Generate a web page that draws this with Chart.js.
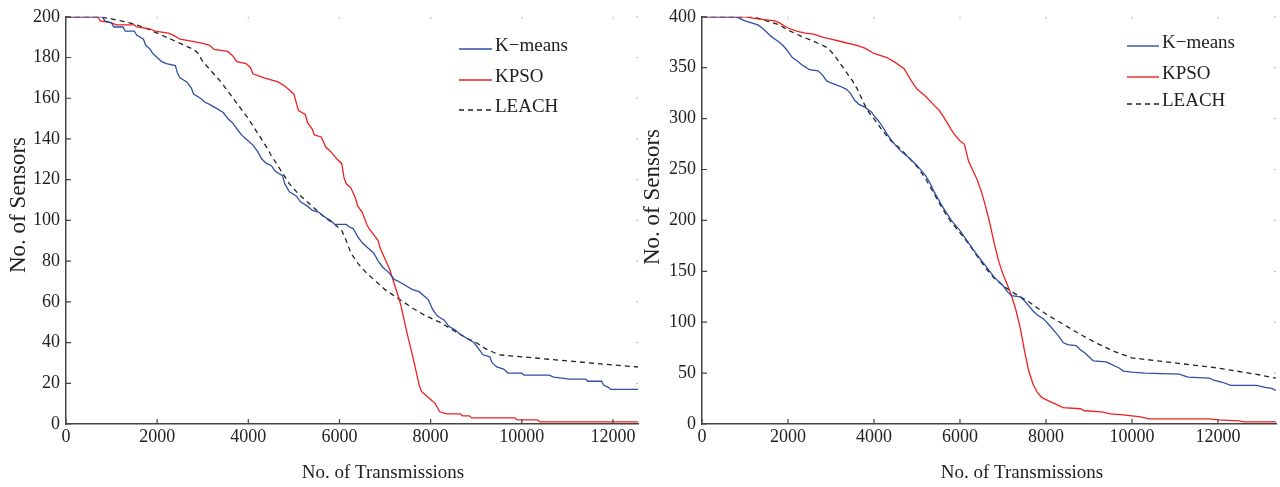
<!DOCTYPE html>
<html>
<head>
<meta charset="utf-8">
<script src="https://cdn.jsdelivr.net/npm/chart.js@4.4.0/dist/chart.umd.min.js"></script>
<style>
html, body { margin: 0; padding: 0; background: #fff; }
#wrap { position: relative; width: 1280px; height: 487px; }
.box { position: absolute; top: 0; height: 487px; }
</style>
</head>
<body>
<div id="wrap">
  <div class="box" style="left:0;width:648px"><canvas id="leftChart"></canvas></div>
  <div class="box" style="left:636px;width:644px"><canvas id="rightChart"></canvas></div>
</div>
<script>
// series names
var seriesNames = ["K\u2212means", "KPSO", "LEACH"];

// left panel: 200 sensors, [transmissions, sensors alive]
var leftKmeans = [[0,200],[800,200],[850,198],[1000,197],[1050,195],[1250,195],[1300,193],[1500,193],[1550,191],[1700,189],[1750,186],[1850,184],[1900,182],[2000,180],[2100,178],[2200,177],[2400,176],[2450,172],[2500,170],[2650,168],[2750,165],[2800,162],[2950,160],[3050,158],[3150,157],[3300,155],[3450,153],[3550,150],[3650,148],[3750,145],[3850,142],[3950,140],[4100,137],[4200,134],[4300,130],[4400,128],[4500,127],[4600,124],[4750,122],[4800,118],[4900,114],[5050,112],[5150,109],[5300,107],[5400,105],[5550,104],[5650,102],[5800,100],[5900,98],[6150,98],[6200,97],[6300,96],[6400,92],[6500,89],[6650,86],[6750,84],[6850,80],[6950,77],[7100,74],[7200,71],[7300,70],[7450,68],[7600,66],[7750,65],[7850,63],[7950,61],[8050,56],[8150,53],[8300,51],[8400,48],[8550,46],[8650,44],[8800,42],[8950,40],[9050,37],[9150,34],[9300,33],[9350,30],[9450,28],[9600,27],[9700,25],[10000,25],[10050,24],[10600,24],[10700,23],[11050,22],[11400,22],[11450,21],[11750,21],[11800,19],[11900,18],[11950,17],[12550,17]];
var leftKpso = [[0,200],[700,200],[750,198],[1000,197],[1100,196],[1500,196],[1550,195],[1850,194],[1950,193],[2250,192],[2350,191],[2500,189],[2750,188],[3000,187],[3150,186],[3250,184],[3550,183],[3650,181],[3750,178],[3950,177],[4050,175],[4100,172],[4350,170],[4500,169],[4650,168],[4800,166],[4900,164],[5000,162],[5050,158],[5100,154],[5250,152],[5300,148],[5400,145],[5450,142],[5600,141],[5700,136],[5800,134],[5950,130],[6050,128],[6100,121],[6150,118],[6250,116],[6350,111],[6400,107],[6500,104],[6600,98],[6650,96],[6750,93],[6850,90],[6900,86],[7000,81],[7100,76],[7200,69],[7300,62],[7350,58],[7450,48],[7500,43],[7600,34],[7700,24],[7750,19],[7800,16],[7900,14],[8000,12],[8100,10],[8200,6],[8350,5],[8650,5],[8700,4],[8850,4],[8900,3],[9850,3],[9900,2],[10350,2],[10400,1],[12550,1]];
var leftLeach = [[0,200],[700,200],[1000,199],[1400,197],[1700,195],[2000,192],[2300,189],[2600,186],[2800,184],[2900,182],[3000,178],[3200,173],[3400,168],[3600,162],[3800,156],[4000,150],[4200,143],[4400,136],[4500,132],[4700,125],[4900,118],[5100,113],[5300,109],[5500,105],[5700,101],[5900,98],[6050,95],[6150,90],[6250,84],[6400,79],[6600,74],[6800,70],[7000,66],[7200,63],[7400,60],[7600,57],[7900,53],[8200,50],[8500,46],[8800,42],[9000,40],[9200,37],[9500,34],[10000,33],[11000,31],[12000,29],[12550,28]];

// right panel: 400 sensors
var rightKmeans = [[0,400],[800,400],[900,398],[1000,396],[1150,394],[1300,392],[1400,389],[1500,385],[1600,381],[1700,378],[1800,375],[1900,371],[2000,366],[2100,360],[2200,357],[2350,352],[2500,348],[2700,347],[2800,343],[2900,337],[3000,335],[3200,332],[3350,329],[3450,325],[3550,318],[3650,314],[3800,311],[3950,306],[4000,303],[4100,298],[4200,292],[4300,285],[4400,279],[4500,274],[4600,269],[4800,262],[5000,254],[5200,244],[5300,237],[5400,228],[5600,213],[5800,200],[6000,190],[6200,178],[6400,166],[6600,155],[6800,144],[7000,136],[7100,130],[7200,126],[7400,125],[7500,121],[7600,116],[7700,111],[7800,107],[7950,103],[8100,96],[8200,91],[8300,86],[8400,80],[8500,78],[8700,77],[8800,73],[8900,70],[9000,66],[9100,62],[9400,61],[9500,59],[9600,57],[9700,55],[9800,52],[10000,51],[10300,50],[11100,49],[11300,46],[11800,45],[11900,43],[12100,41],[12300,38],[12900,38],[13100,36],[13250,35],[13350,33]];
var rightKpso = [[0,400],[1000,400],[1300,398],[1700,396],[1800,394],[2000,389],[2200,386],[2400,384],[2600,383],[2800,380],[3000,378],[3300,375],[3600,372],[3800,369],[4000,364],[4300,360],[4500,355],[4700,349],[4800,342],[4900,335],[5000,329],[5200,322],[5400,313],[5500,309],[5600,303],[5700,296],[5800,289],[5900,283],[6000,278],[6100,275],[6200,258],[6300,249],[6400,240],[6500,228],[6600,213],[6700,196],[6800,177],[6900,160],[7000,147],[7100,137],[7200,126],[7300,112],[7400,95],[7500,72],[7600,52],[7700,39],[7800,31],[7900,26],[8000,24],[8100,22],[8300,18],[8400,16],[8800,15],[8900,13],[9300,12],[9500,10],[9800,9],[10000,8],[10200,7],[10400,5],[11800,5],[12000,4],[12500,3],[12600,2],[13350,2]];
var rightLeach = [[0,400],[1200,400],[1500,396],[1800,392],[2000,387],[2300,381],[2600,376],[2900,370],[3000,366],[3100,361],[3200,355],[3300,349],[3400,343],[3500,337],[3600,330],[3700,321],[3800,312],[3900,305],[4000,300],[4200,288],[4400,278],[4600,271],[4800,262],[5000,253],[5200,241],[5400,226],[5600,211],[5800,198],[6000,188],[6200,177],[6400,165],[6600,153],[6800,143],[7000,136],[7200,130],[7400,125],[7600,120],[7800,114],[8000,108],[8400,98],[8800,88],[9200,79],[9600,71],[10000,65],[11000,60],[12000,55],[13000,48],[13350,45]];

// axes and tick labels
var leftXMax = 12550, rightXMax = 13350;
var xTicks = [0, 2000, 4000, 6000, 8000, 10000, 12000];
var leftYTicks = [0, 20, 40, 60, 80, 100, 120, 140, 160, 180, 200];
var rightYTicks = [0, 50, 100, 150, 200, 250, 300, 350, 400];
var xTitle = "No. of Transmissions";
var yTitle = "No. of Sensors";

var serif = "'Liberation Serif', 'Times New Roman', serif";
var colors = ["#2f4ea6", "#ee2020", "#222222"];

function toXY(list) {
    return list.map(function(p) { return {x: p[0], y: p[1]}; });
}

function fixedTicks(values) {
    return function(scale) {
        scale.ticks = values.map(function(v) { return {value: v}; });
    };
}

// inward tick marks + faint box ticks
var tickPlugin = {
    id: "inTicks",
    afterDraw: function(chart) {
        var ctx = chart.ctx, a = chart.chartArea;
        var xs = chart.scales.x, ys = chart.scales.y;
        ctx.save();
        ctx.lineWidth = 1.2;
        ctx.strokeStyle = "#444";
        ctx.beginPath();
        xs.ticks.forEach(function(t) {
            var px = xs.getPixelForValue(t.value);
            ctx.moveTo(px, a.bottom); ctx.lineTo(px, a.bottom - 5);
        });
        ys.ticks.forEach(function(t) {
            var py = ys.getPixelForValue(t.value);
            ctx.moveTo(a.left, py); ctx.lineTo(a.left + 5, py);
        });
        ctx.stroke();
        ctx.strokeStyle = "rgba(120,120,120,0.45)";
        ctx.beginPath();
        xs.ticks.forEach(function(t) {
            if (t.value === 0) return;
            var px = xs.getPixelForValue(t.value);
            ctx.moveTo(px, a.top); ctx.lineTo(px, a.top + 2);
        });
        ys.ticks.forEach(function(t) {
            if (t.value === 0) return;
            var py = ys.getPixelForValue(t.value);
            ctx.moveTo(a.right, py); ctx.lineTo(a.right - 2, py);
        });
        ctx.stroke();
        ctx.restore();
    }
};

// legend drawn inside the plot, axis titles placed like the figure
var legendPlugin = {
    id: "plotLegend",
    afterDraw: function(chart, args, opts) {
        var ctx = chart.ctx, a = chart.chartArea;
        ctx.save();
        ctx.font = "19px " + serif;
        ctx.fillStyle = "#222";
        ctx.textBaseline = "alphabetic";
        chart.data.datasets.forEach(function(ds, i) {
            var y = opts.ys[i];
            ctx.strokeStyle = ds.borderColor;
            ctx.lineWidth = 1.4;
            ctx.setLineDash(ds.borderDash || []);
            ctx.beginPath();
            ctx.moveTo(opts.x0, y - 2);
            ctx.lineTo(opts.x1, y - 2);
            ctx.stroke();
            ctx.setLineDash([]);
            ctx.fillText(ds.label, opts.tx, y);
        });
        // x title
        ctx.textAlign = "center";
        ctx.fillText(xTitle, (a.left + a.right) / 2 + opts.xTitleShift, 478);
        // y title
        ctx.font = "23px " + serif;
        ctx.translate(opts.yTitleX, opts.yTitleY);
        ctx.rotate(-Math.PI / 2);
        ctx.fillText(yTitle, 0, 0);
        ctx.restore();
    }
};

function makeChart(id, data, xMax, yTicks, legendPos, padRight) {
    var datasets = data.map(function(d, i) {
        return {
            label: seriesNames[i],
            data: toXY(d),
            borderColor: colors[i],
            borderWidth: 1.3,
            borderDash: i === 2 ? [5, 4] : [],
            pointRadius: 0,
            tension: 0,
            fill: false
        };
    });
    return new Chart(document.getElementById(id), {
        type: "line",
        data: { datasets: datasets },
        plugins: [tickPlugin, legendPlugin],
        options: {
            responsive: true,
            maintainAspectRatio: false,
            animation: false,
            layout: { padding: { top: 16, right: padRight, bottom: 0, left: 0 } },
            plugins: {
                legend: { display: false },
                tooltip: { enabled: false },
                plotLegend: legendPos
            },
            scales: {
                x: {
                    type: "linear",
                    min: 0, max: xMax,
                    afterBuildTicks: fixedTicks(xTicks),
                    afterFit: function(s) { s.height = 63; },
                    grid: { drawOnChartArea: false, drawTicks: false },
                    border: { display: true, color: "#444", width: 1.5 },
                    ticks: {
                        autoSkip: false,
                        maxRotation: 0,
                        padding: 2,
                        color: "#222",
                        font: { family: serif, size: 18 },
                        callback: function(v) { return String(v); }
                    },
                    title: { display: false }
                },
                y: {
                    type: "linear",
                    min: 0, max: yTicks[yTicks.length - 1],
                    afterBuildTicks: fixedTicks(yTicks),
                    afterFit: function(s) { s.width = 66; },
                    grid: { drawOnChartArea: false, drawTicks: false },
                    border: { display: true, color: "#444", width: 1.5 },
                    ticks: {
                        autoSkip: false,
                        padding: 6,
                        color: "#222",
                        font: { family: serif, size: 18 },
                        callback: function(v) { return String(v); }
                    },
                    title: { display: false }
                }
            }
        }
    });
}

makeChart("leftChart", [leftKmeans, leftKpso, leftLeach], leftXMax, leftYTicks,
    { x0: 459, x1: 492, tx: 495, ys: [51, 82, 112], xTitleShift: 31, yTitleX: 25, yTitleY: 205 }, 10);
makeChart("rightChart", [rightKmeans, rightKpso, rightLeach], rightXMax, rightYTicks,
    { x0: 491, x1: 523, tx: 526, ys: [48, 79, 106], xTitleShift: 33, yTitleX: 23, yTitleY: 197 }, 4);
</script>
</body>
</html>
